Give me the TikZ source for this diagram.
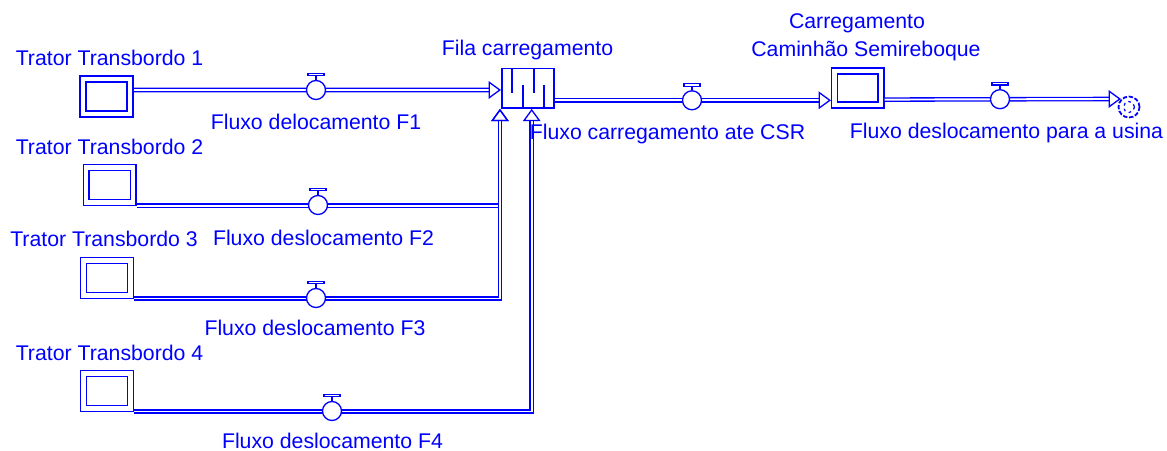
\documentclass[tikz,border=0pt]{standalone}
\usepackage{fontspec}
\setmainfont{Liberation Sans}
\usetikzlibrary{arrows.meta}
\tikzset{
  stock/.style={draw=blue, line width=0.8pt, double=white, double distance=2.6pt, minimum width=0.94cm, minimum height=0.70cm, inner sep=0pt},
  queue/.style={draw=blue, line width=0.9pt, minimum width=1.05cm, minimum height=0.79cm, inner sep=0pt},
  flow/.style={draw=blue, line width=0.75pt, double=white, double distance=1.1pt},
  flowtip/.style={-{Triangle[open, length=7pt, width=10pt]}},
  valve/.style={circle, draw=blue, line width=0.75pt, fill=white, minimum size=0.38cm, inner sep=0pt},
  handle/.style={draw=blue, line width=0.7pt, fill=white},
  sink/.style={circle, draw=blue, line width=1pt, dash pattern=on 2.5pt off 1pt, minimum size=0.42cm, inner sep=0pt},
  lbl/.style={font=\fontsize{12.1}{14}\selectfont, text=blue, inner sep=0pt, anchor=base},
}
\begin{document}
\begin{tikzpicture}[x=0.02cm, y=-0.02cm]
\useasboundingbox (0,0) rectangle (1167,450);
% stocks
\node[stock] (tt1) at (106.5,96.5) {};
\node[stock] (tt2) at (109.7,185) {};
\node[stock] (tt3) at (107,277.8) {};
\node[stock] (tt4) at (107,390.8) {};
\node[queue] (fila) at (528,88.3) {};
\node[stock, minimum width=0.926cm, minimum height=0.68cm] (cam) at (857.8,88) {};
\node[sink] (usina) at (1129,107) {};
\draw[blue, line width=0.7pt, dash pattern=on 1.5pt off 2pt] (usina) circle (5.5);
\draw[blue, line width=0.75pt] (512,68.7) -- (512,93) (534,68.7) -- (534,93)
  (523,108) -- (523,85) (544,108) -- (544,85);
\coordinate (in1) at ([shift={(-1,0)}]fila.south west);
\coordinate (in2) at ([shift={(3.7,0)}]fila.south);

% flows
\draw[flow, flowtip] ([shift={(3.5,-6.5)}]tt1.east) -- ([shift={(0,1.7)}]fila.west);
\draw[flow, flowtip] ([shift={(3,2.5)}]tt2.south east) -| (in1);
\draw[flow, flowtip] ([shift={(3,2.5)}]tt3.south east) -| (in1);
\draw[flow, flowtip] ([shift={(3,2.5)}]tt4.south east) -| (in2);
\draw[flow, flowtip] ([shift={(0,12)}]fila.east) -- ([shift={(-3,12.3)}]cam.west);
\draw[flow, flowtip] ([shift={(3,11.6)}]cam.east) -- (usina.north west);

% valves
\node[valve] (v1) at (316,90) {};
\node[valve] (v2) at (318,205) {};
\node[valve] (v3) at (316,298) {};
\node[valve] (v4) at (332,411) {};
\node[valve] (vc) at (692,100.3) {};
\node[valve] (vu) at (1000,99.2) {};
\foreach \v in {v1,v2,v3,v4,vc,vu}
  \draw[handle] (\v.north) -- ++(0,-4) ([shift={(-8,-4)}]\v.north) rectangle ([shift={(8,-6.5)}]\v.north);

% labels
\node[lbl] (ltt1) at (109.5,65) {Trator Transbordo 1};
\node[lbl] (lf1) at (316,129) {Fluxo delocamento F1};
\node[lbl] (ltt2) at (109.5,154) {Trator Transbordo 2};
\node[lbl] (lf2) at (323.5,245) {Fluxo deslocamento F2};
\node[lbl] (ltt3) at (104,246) {Trator Transbordo 3};
\node[lbl] (lf3) at (315,335) {Fluxo deslocamento F3};
\node[lbl] (ltt4) at (109.5,360) {Trator Transbordo 4};
\node[lbl] (lf4) at (332.5,448) {Fluxo deslocamento F4};
\node[lbl] (lfila) at (527.5,55) {Fila carregamento};
\node[lbl] (lfc) at (667.5,139) {Fluxo carregamento ate CSR};
\node[lbl] (lcam1) at (857,28) {Carregamento};
\node[lbl] (lcam2) at (866,56) {Caminhão Semireboque};
\node[lbl] (lfu) at (1006.5,138) {Fluxo deslocamento para a usina};
\end{tikzpicture}
\end{document}
